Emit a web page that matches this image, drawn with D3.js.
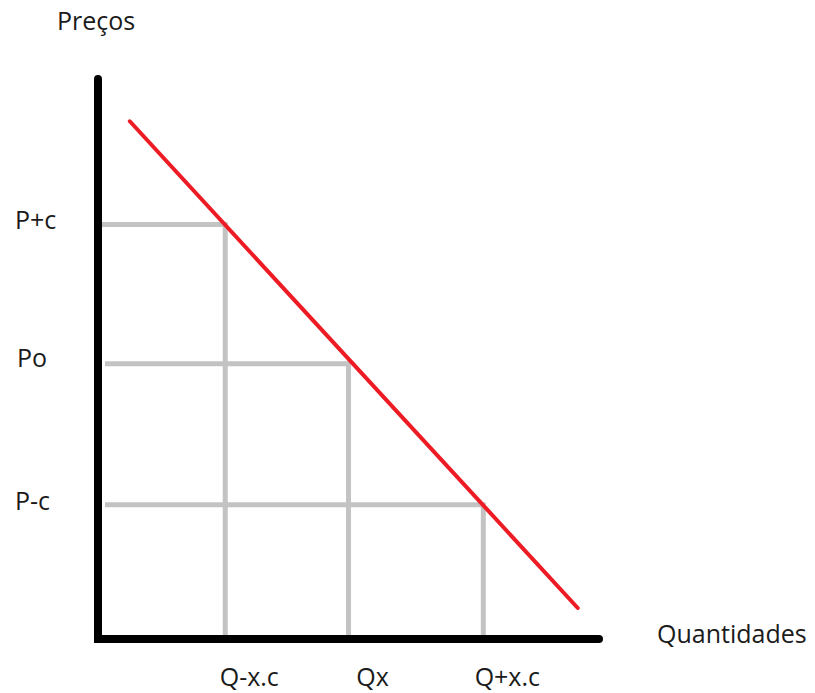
<!DOCTYPE html>
<html>
<head>
<meta charset="utf-8">
<script src="https://cdn.jsdelivr.net/npm/d3@7"></script>
<style>
  html, body { margin: 0; padding: 0; background: #fff; }
  text { font-family: "Open Sans", sans-serif; font-size: 25px; fill: #1b1b1b; }
</style>
</head>
<body>
<div id="chart-area"></div>
<script>
// Axis titles
const AXIS_TITLES = { y: "Preços", x: "Quantidades" };

// Price levels (y) and the matching quantities (x), in chart units 0..100
const priceLabels = ["P+c", "Po", "P-c"];
const priceValues = [73.5, 48.8, 23.8];
const quantityLabels = ["Q-x.c", "Qx", "Q+x.c"];
const quantityValues = [25.2, 49.6, 76.3];

// Demand line end points [quantity, price]
const demandLine = [[6.3, 91.8], [95.0, 5.5]];

const COLORS = {
  axis: "#000000",
  guide: "#c3c3c3",
  demand: "#ed1c24",
};

const width = 815;
const height = 693;

// Chart configuration
const CHART = { left: 98, right: 603, top: 75, bottom: 639 };

const svg = d3.select("#chart-area").append("svg")
  .attr("width", width)
  .attr("height", height);

// Scales
const xScale = d3.scaleLinear().domain([0, 100]).range([CHART.left, CHART.right]);
const yScale = d3.scaleLinear().domain([0, 100]).range([CHART.bottom, CHART.top]);

const guides = priceValues.map((p, i) => ({ p, q: quantityValues[i] }));

// Gray guide lines (drawn first so the axis and demand line sit on top)
const guideG = svg.append("g")
  .attr("fill", "none")
  .attr("stroke", COLORS.guide)
  .attr("stroke-width", 5);

guideG.selectAll(".h-guide")
  .data(guides)
  .enter()
  .append("line")
  .attr("class", "h-guide")
  .attr("x1", (d, i) => xScale(0) + (i === 0 ? 2 : 7))
  .attr("x2", (d) => xScale(d.q) + 2)
  .attr("y1", (d) => yScale(d.p))
  .attr("y2", (d) => yScale(d.p));

guideG.selectAll(".v-guide")
  .data(guides)
  .enter()
  .append("line")
  .attr("class", "v-guide")
  .attr("x1", (d) => xScale(d.q))
  .attr("x2", (d) => xScale(d.q))
  .attr("y1", (d) => yScale(d.p) - 2)
  .attr("y2", yScale(0) - 1);

// Axes: thick black L
svg.append("path")
  .attr("d", d3.line()([
    [xScale(0), yScale(100) + 4],
    [xScale(0), yScale(0)],
    [xScale(100) - 4, yScale(0)],
  ]))
  .attr("fill", "none")
  .attr("stroke", COLORS.axis)
  .attr("stroke-width", 8)
  .attr("stroke-linecap", "round")
  .attr("stroke-linejoin", "miter");

// Demand line
svg.append("path")
  .attr("d", d3.line().x((d) => xScale(d[0])).y((d) => yScale(d[1]))(demandLine))
  .attr("fill", "none")
  .attr("stroke", COLORS.demand)
  .attr("stroke-width", 4)
  .attr("stroke-linecap", "round");

// Price labels
svg.selectAll(".price-label")
  .data(guides)
  .enter()
  .append("text")
  .attr("class", "price-label")
  .attr("x", (d, i) => (i === 1 ? 17 : 15))
  .attr("y", (d, i) => yScale(d.p) + (i === 1 ? 3 : 5))
  .text((d, i) => priceLabels[i]);

// Quantity labels
svg.selectAll(".quantity-label")
  .data(guides)
  .enter()
  .append("text")
  .attr("class", "quantity-label")
  .attr("x", (d) => xScale(d.q) + 24)
  .attr("y", 686)
  .attr("text-anchor", "middle")
  .text((d, i) => quantityLabels[i]);

// Axis titles
svg.append("text")
  .attr("x", 57)
  .attr("y", 30)
  .text(AXIS_TITLES.y);

svg.append("text")
  .attr("x", 657)
  .attr("y", 643)
  .text(AXIS_TITLES.x);
</script>
</body>
</html>
